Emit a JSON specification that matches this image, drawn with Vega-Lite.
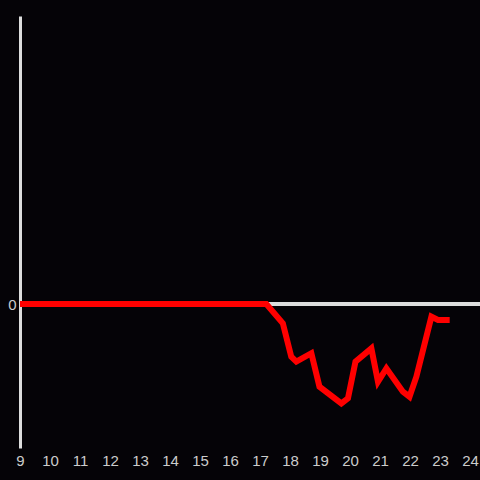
{
  "$schema": "https://vega.github.io/schema/vega-lite/v6.json",
  "autosize": "none",
  "width": 460,
  "height": 432,
  "padding": {"left": 20, "top": 16, "right": 0, "bottom": 32},
  "background": "#050307",
  "config": {"view": {"stroke": null}},
  "data": {
    "values": [
      {"h": 9, "v": 0}, {"h": 10, "v": 0}, {"h": 11, "v": 0}, {"h": 12, "v": 0},
      {"h": 13, "v": 0}, {"h": 14, "v": 0}, {"h": 15, "v": 0}, {"h": 16, "v": 0},
      {"h": 17, "v": 0}, {"h": 17.21, "v": 0},
      {"h": 17.76, "v": -0.134},
      {"h": 18.04, "v": -0.366},
      {"h": 18.21, "v": -0.4},
      {"h": 18.71, "v": -0.342},
      {"h": 18.98, "v": -0.574},
      {"h": 19.71, "v": -0.69},
      {"h": 19.93, "v": -0.655},
      {"h": 20.18, "v": -0.4},
      {"h": 20.71, "v": -0.308},
      {"h": 20.93, "v": -0.54},
      {"h": 21.21, "v": -0.447},
      {"h": 21.76, "v": -0.609},
      {"h": 21.98, "v": -0.644},
      {"h": 22.21, "v": -0.505},
      {"h": 22.71, "v": -0.088},
      {"h": 22.93, "v": -0.111},
      {"h": 23.32, "v": -0.111}
    ]
  },
  "layer": [
    {
      "mark": {"type": "rule", "color": "#dddddd", "strokeWidth": 3},
      "encoding": {"y": {"datum": 0, "type": "quantitative"}}
    },
    {
      "mark": {"type": "line", "color": "#ff0000", "strokeWidth": 6, "strokeCap": "butt", "strokeJoin": "miter"},
      "encoding": {
        "x": {
          "field": "h", "type": "quantitative",
          "scale": {"domain": [9, 24.33], "nice": false, "zero": false},
          "axis": {
            "title": null, "domain": false, "ticks": false, "grid": false,
            "values": [9, 10, 11, 12, 13, 14, 15, 16, 17, 18, 19, 20, 21, 22, 23, 24],
            "format": "d",
            "labelColor": "#cccccc", "labelFont": "Liberation Sans", "labelFontSize": 15,
            "labelPadding": 5, "labelFlush": false, "labelOverlap": false
          }
        },
        "y": {
          "field": "v", "type": "quantitative",
          "scale": {"domain": [-1, 2], "nice": false, "zero": false},
          "axis": {
            "title": null, "ticks": false, "grid": false, "values": [0],
            "format": "d",
            "domainColor": "#dddddd", "domainWidth": 3,
            "labelColor": "#cccccc", "labelFont": "Liberation Sans", "labelFontSize": 15,
            "labelPadding": 4
          }
        }
      }
    }
  ]
}
